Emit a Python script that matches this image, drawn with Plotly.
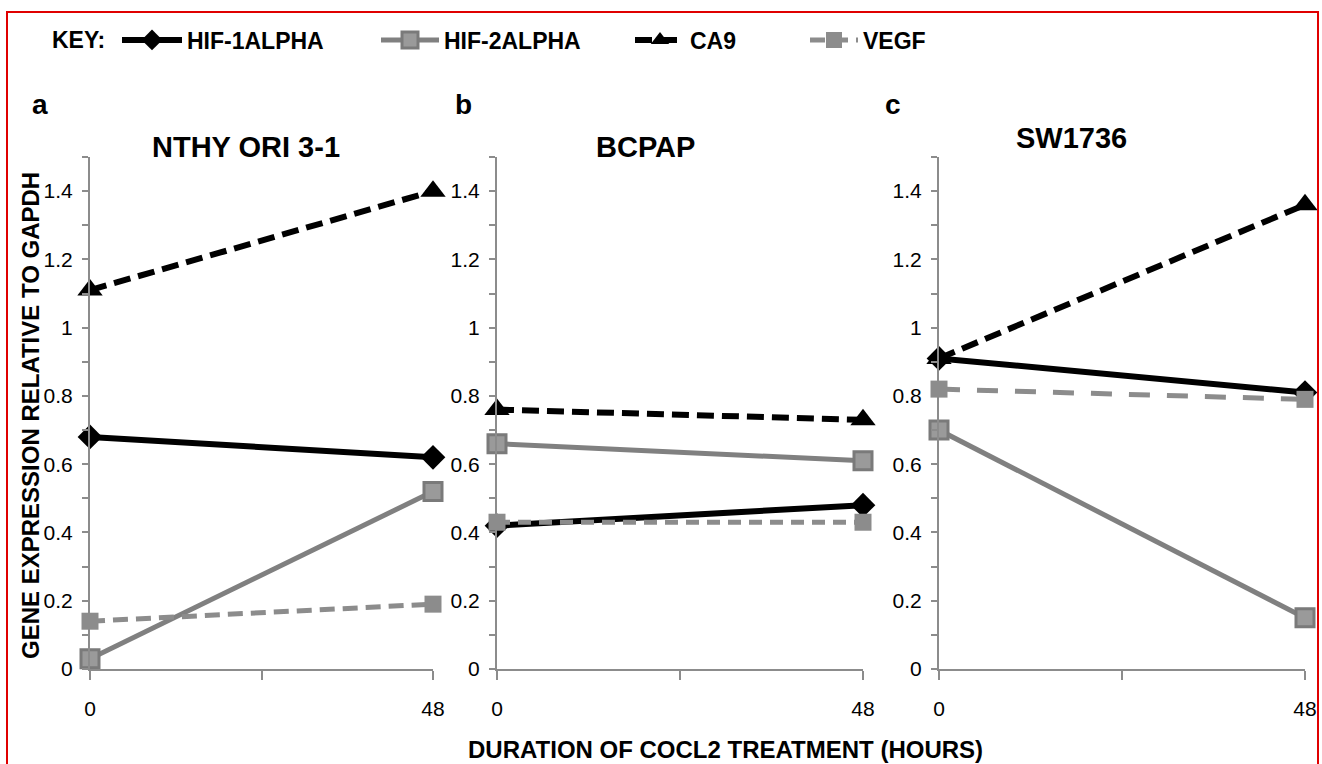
import plotly.graph_objects as go

W, H = 1322, 764

hours = [0, 48]
x_ticks = [0, 24, 48]
x_tick_text = ["0", "", "48"]
y_ticks = [0, 0.2, 0.4, 0.6, 0.8, 1.0, 1.2, 1.4]
y_tick_text = ["0", "0.2", "0.4", "0.6", "0.8", "1", "1.2", "1.4"]

panel_titles = ["NTHY ORI 3-1", "BCPAP", "SW1736"]
panel_letters = ["a", "b", "c"]
series_names = ["HIF-1ALPHA", "HIF-2ALPHA", "CA9", "VEGF"]

nthy_hif1a = [0.68, 0.62]
nthy_hif2a = [0.03, 0.52]
nthy_ca9 = [1.11, 1.40]
nthy_vegf = [0.14, 0.19]

bcpap_hif1a = [0.42, 0.48]
bcpap_hif2a = [0.66, 0.61]
bcpap_ca9 = [0.76, 0.73]
bcpap_vegf = [0.43, 0.43]

sw_hif1a = [0.91, 0.81]
sw_hif2a = [0.70, 0.15]
sw_ca9 = [0.91, 1.36]
sw_vegf = [0.82, 0.79]

panels = [
    [nthy_hif1a, nthy_hif2a, nthy_ca9, nthy_vegf],
    [bcpap_hif1a, bcpap_hif2a, bcpap_ca9, bcpap_vegf],
    [sw_hif1a, sw_hif2a, sw_ca9, sw_vegf],
]

BLACK = "#000000"
GRAY_L = "#808080"
GRAY_V = "#8c8c8c"
styles = [
    dict(line=dict(color=BLACK, width=6), marker=dict(symbol="diamond", size=19, color=BLACK)),
    dict(line=dict(color=GRAY_L, width=5), marker=dict(symbol="square", size=18, color="#9a9a9a",
                                                       line=dict(color="#7a7a7a", width=3))),
    dict(line=dict(color=BLACK, width=6, dash="17px,8px"), marker=dict(symbol="triangle-up", size=22, color=BLACK)),
    dict(line=dict(color=GRAY_V, width=5, dash="15px,8px"), marker=dict(symbol="square", size=17, color=GRAY_V)),
]
vegf_dash = ["15px,8px", "13px,8px", "21px,17px"]

x_px = [(90, 433), (497, 863), (939, 1305)]
y_px = (669, 157)

def px_x(p):
    return p / W

def px_y(p):
    return 1 - p / H

fig = go.Figure()
legend_names = ["legend", "legend2", "legend3", "legend4"]

for pi, data in enumerate(panels):
    axn = "" if pi == 0 else str(pi + 1)
    for si, vals in enumerate(data):
        st = styles[si]
        line = dict(st["line"])
        if si == 3:
            line["dash"] = vegf_dash[pi]
        fig.add_trace(go.Scatter(
            x=hours, y=vals, mode="lines+markers",
            name=series_names[si],
            line=line, marker=st["marker"],
            xaxis="x" + axn, yaxis="y" + axn,
            cliponaxis=False,
            showlegend=(pi == 0),
            legend=legend_names[si],
        ))

tick_font = dict(family="Liberation Sans Narrow, Liberation Sans, sans-serif", size=21, color="#000")
axis_color = "#8c8c8c"
layout = dict(
    autosize=True, margin=dict(l=0, r=0, t=0, b=0, autoexpand=False),
    paper_bgcolor="white", plot_bgcolor="white",
    showlegend=True,
)
for pi in range(3):
    axn = "" if pi == 0 else str(pi + 1)
    layout["xaxis" + axn] = dict(
        domain=[px_x(x_px[pi][0]), px_x(x_px[pi][1])],
        range=[0, 48], tickmode="array", tickvals=x_ticks, ticktext=x_tick_text,
        showline=True, linecolor=axis_color, linewidth=2,
        ticks="outside", ticklen=9, tickwidth=2, tickcolor=axis_color,
        tickfont=tick_font, ticklabelstandoff=11,
        showgrid=False, zeroline=False, fixedrange=True,
        anchor="y" + axn,
    )
    layout["yaxis" + axn] = dict(
        domain=[px_y(y_px[0]), px_y(y_px[1])],
        range=[0, 1.5], tickmode="array", tickvals=y_ticks, ticktext=y_tick_text,
        showline=True, linecolor=axis_color, linewidth=2,
        ticks="outside", ticklen=6, tickwidth=1.5, tickcolor=axis_color,
        minor=dict(dtick=0.1, tick0=0, ticks="outside", ticklen=6, tickwidth=1.5, tickcolor=axis_color),
        tickfont=tick_font, ticklabelstandoff=5,
        showgrid=False, zeroline=False, fixedrange=True,
        anchor="x" + axn,
    )

legend_font = dict(family="Liberation Sans, Arial, sans-serif", size=23, color="#000", weight="bold")
legend_x = [117, 376, 630, 805]
legend_iw = [60, 58, 50, 48]
for li, ln in enumerate(legend_names):
    layout[ln] = dict(
        x=px_x(legend_x[li]), y=px_y(40), xanchor="left", yanchor="middle",
        orientation="h", font=legend_font, itemwidth=legend_iw[li],
        bgcolor="rgba(0,0,0,0)", borderwidth=0,
    )

fig.update_layout(**layout)

bold = dict(family="Liberation Sans, Arial, sans-serif", color="#000", weight="bold")
annotations = []
annotations.append(dict(text="KEY:", x=px_x(50), y=px_y(40), xref="paper", yref="paper",
                        xanchor="left", yanchor="middle", showarrow=False, font=dict(size=23, **bold)))
title_pos = [(246, 147), (645, 147), (1071, 138)]
letter_pos = [(40, 104), (463, 104), (893, 104)]
for pi in range(3):
    annotations.append(dict(text=panel_titles[pi], x=px_x(title_pos[pi][0]), y=px_y(title_pos[pi][1]),
                            xref="paper", yref="paper", xanchor="center", yanchor="middle",
                            showarrow=False, font=dict(size=29, **bold)))
    annotations.append(dict(text=panel_letters[pi], x=px_x(letter_pos[pi][0]), y=px_y(letter_pos[pi][1]),
                            xref="paper", yref="paper", xanchor="center", yanchor="middle",
                            showarrow=False, font=dict(size=28, **bold)))
annotations.append(dict(text="GENE EXPRESSION RELATIVE TO GAPDH", x=px_x(30), y=px_y(416),
                        xref="paper", yref="paper", xanchor="center", yanchor="middle",
                        textangle=-90, showarrow=False, font=dict(size=24, **bold)))
annotations.append(dict(text="DURATION OF COCL2 TREATMENT (HOURS)", x=px_x(725), y=px_y(749),
                        xref="paper", yref="paper", xanchor="center", yanchor="middle",
                        showarrow=False, font=dict(size=24, **bold)))
fig.update_layout(annotations=annotations)

fig.add_shape(type="rect", xref="paper", yref="paper",
              x0=px_x(7), x1=px_x(1318), y0=px_y(800), y1=px_y(12),
              line=dict(color="#e00000", width=2), fillcolor="rgba(0,0,0,0)")

fig.write_html(
    "out.html",
    config={"displayModeBar": False, "responsive": True},
    default_width="100vw",
    default_height="100vh",
    post_script=(
        "document.documentElement.style.margin='0';document.documentElement.style.overflow='hidden';"
        "document.body.style.margin='0';document.body.style.padding='0';document.body.style.overflow='hidden';"
        "var gd=document.getElementById('{plot_id}');if(window.Plotly&&gd){Plotly.Plots.resize(gd);}"
    ),
)
